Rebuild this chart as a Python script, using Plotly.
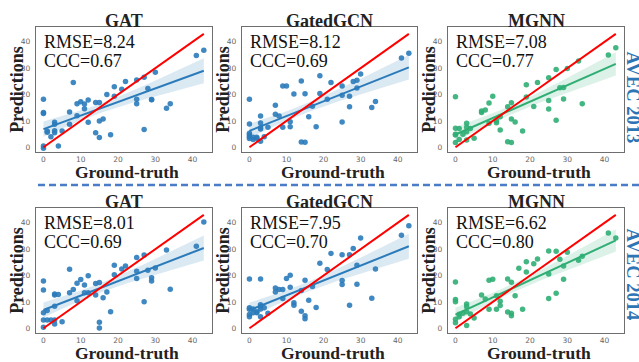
import numpy as np
import plotly.graph_objects as go

W, H = 639, 362

# ---------------- data ----------------
titles = ["GAT", "GatedGCN", "MGNN", "GAT", "GatedGCN", "MGNN"]
rmse_labels = ["RMSE=8.24", "RMSE=8.12", "RMSE=7.08", "RMSE=8.01", "RMSE=7.95", "RMSE=6.62"]
ccc_labels = ["CCC=0.67", "CCC=0.69", "CCC=0.77", "CCC=0.69", "CCC=0.70", "CCC=0.80"]
row_labels = ["AVEC 2013", "AVEC 2014"]
tick_vals = [0, 10, 20, 30, 40]

gat13_x = [0, 0, 0, 0, 0, 1, 1, 2, 3, 3, 3, 3, 4, 5, 7, 7, 8, 9, 9, 10, 11, 11, 12, 12, 14, 14, 15, 15, 15, 16,
           17, 18, 19, 19, 21, 22, 25, 25, 25, 27, 27, 28, 29, 29, 30, 33, 34, 41, 43]
gat13_y = [0.5, -0.4, 18.2, 13.2, 12.8, 5.7, 6.2, 4.0, 9.5, 8.7, 6.3, 5.5, 0.5, 6.2, 13.4, 8.7, 24.6, 16.5, 12.0,
           17.3, 16.4, 14.6, 17.9, 9.5, 5.5, 17.0, 17.0, 10.0, 3.7, 10.7, 20.0, 4.8, 23.0, 19.4, 22.0, 24.9, 25.5,
           18.2, 16.5, 26.6, 6.7, 22.3, 18.0, 18.1, 28.5, 14.8, 16.5, 34.8, 36.8]

ggcn13_x = [0, 0, 0, 0, 0, 0, 1, 1, 2, 2, 3, 3, 3, 3, 3, 4, 5, 7, 7, 8, 9, 9, 10, 11, 11, 12, 14, 14, 15, 15, 16,
            17, 18, 19, 19, 21, 22, 25, 25, 25, 27, 27, 28, 29, 29, 30, 33, 34, 41, 43]
ggcn13_y = [18.2, 8.8, 5.3, 4.7, 4.0, 3.3, 3.8, 3.0, 3.8, 3.3, 11.9, 9.2, 7.4, 6.9, 2.3, 4.0, 7.6, 15.9, 12.5,
            11.9, 23.2, 7.6, 23.2, 9.7, 7.8, 20.2, 25.1, 2.0, 20.3, 1.9, 11.6, 15.6, 7.8, 27.1, 20.4, 18.2, 24.6,
            23.2, 19.7, 9.6, 19.4, 15.4, 24.9, 25.4, 22.5, 27.8, 15.1, 17.4, 33.9, 35.7]

mgnn13_x = [0, 0, 0, 0, 0, 1, 1, 2, 3, 3, 3, 3, 4, 5, 7, 7, 8, 9, 9, 10, 11, 11, 12, 12, 14, 14, 15, 15, 15, 16,
            18, 19, 19, 21, 22, 25, 25, 25, 27, 27, 28, 29, 29, 30, 33, 34, 41, 43]
mgnn13_y = [19.2, 7.2, 4.9, 4.7, 1.8, 7.1, 3.0, 4.9, 9.1, 7.6, 5.9, 2.8, 7.1, 3.4, 13.2, 13.8, 14.1, 16.8, 9.1,
            19.4, 10.1, 9.3, 11.6, 6.6, 15.4, 2.1, 16.9, 10.7, 1.8, 9.6, 6.2, 23.7, 19.1, 15.5, 24.6, 26.4, 17.7,
            14.5, 10.3, 29.5, 22.6, 22.7, 18.3, 29.9, 32.7, 16.5, 35.0, 37.7]

gat14_x = [0, 0, 0, 0, 0, 1, 1, 2, 3, 3, 3, 3, 3, 4, 5, 7, 7, 8, 9, 9, 10, 11, 11, 12, 12, 14, 14, 15, 15, 15,
           16, 17, 18, 19, 19, 21, 22, 25, 25, 25, 27, 27, 28, 29, 29, 30, 33, 34, 41, 43]
gat14_y = [17.9, 14.5, 5.9, 3.1, 0.4, 6.7, 3.1, 3.1, 13.0, 12.6, 8.4, 3.1, 1.6, 12.8, 2.5, 22.4, 13.5, 14.7,
           17.1, 10.4, 18.5, 16.4, 13.5, 19.9, 13.5, 17.0, 12.6, 17.4, 2.3, 0.1, 11.6, 13.8, 6.3, 23.9, 20.3,
           22.5, 23.6, 26.8, 21.6, 18.9, 27.8, 10.1, 22.0, 19.2, 17.9, 22.9, 29.7, 14.8, 31.1, 40.3]

ggcn14_x = [0, 0, 0, 0, 0, 1, 1, 2, 2, 3, 3, 3, 3, 3, 4, 5, 7, 7, 8, 9, 9, 10, 11, 11, 12, 12, 14, 14, 15, 15,
            15, 16, 17, 18, 19, 21, 22, 25, 25, 25, 27, 27, 28, 29, 29, 30, 33, 34, 41, 43]
ggcn14_y = [18.7, 7.8, 7.2, 5.2, 4.4, 7.3, 5.9, 5.9, 6.3, 18.7, 8.9, 8.3, 7.3, 4.4, 7.8, 5.7, 15.3, 13.8, 14.7,
            14.7, 11.3, 18.9, 20.1, 15.6, 9.7, 8.7, 6.5, 14.3, 18.2, 4.8, 3.6, 10.6, 15.8, 7.9, 24.7, 22.3, 28.4,
            27.9, 18.1, 16.6, 8.7, 27.9, 30.3, 23.9, 16.7, 34.2, 11.4, 22.5, 35.3, 38.9]

mgnn14_x = [0, 0, 0, 0, 0, 1, 1, 2, 3, 3, 3, 3, 4, 5, 7, 8, 9, 9, 10, 11, 11, 12, 12, 14, 14, 15, 15, 15, 16, 17,
            18, 19, 19, 21, 22, 25, 25, 25, 27, 27, 28, 29, 29, 30, 33, 34, 41, 43]
mgnn14_y = [17.6, 10.9, 10.1, 3.4, 2.1, 5.3, 4.4, 5.7, 9.2, 8.2, 6.3, 1.1, 5.4, 3.9, 12.6, 11.1, 18.2, 7.2, 18.6,
            7.2, 12.3, 10.3, 8.6, 18.7, 6.2, 17.5, 5.7, 4.8, 12.3, 22.8, 7.2, 25.2, 21.3, 24.5, 26.3, 29.3, 20.6,
            11.3, 29.2, 13.3, 26.2, 23.6, 18.6, 28.8, 25.8, 27.3, 36.1, 34.2]

series_x = [gat13_x, ggcn13_x, mgnn13_x, gat14_x, ggcn14_x, mgnn14_x]
series_y = [gat13_y, ggcn13_y, mgnn13_y, gat14_y, ggcn14_y, mgnn14_y]
identity_x = [0, 43]

# ---------------- styles ----------------
BLUE = "#2b7bba"
GREEN = "#2fae74"
colors = [BLUE, BLUE, GREEN, BLUE, BLUE, GREEN]
band_colors = ["rgba(43,123,186,0.17)", "rgba(43,123,186,0.17)", "rgba(47,174,116,0.17)",
               "rgba(43,123,186,0.17)", "rgba(43,123,186,0.17)", "rgba(47,174,116,0.17)"]
SERIF = "Liberation Serif, Times New Roman, serif"
LABEL_BLUE = "#2e75b6"

# panel boxes in pixels: (left, right, top, bottom)
col_px = [(36, 212), (242, 417), (448, 624)]
row_px = [(27.3, 152.3), (208.3, 333.3)]


def px(x):
    return x / W


def py(y):
    return 1 - y / H


fig = go.Figure()
annotations = []
shapes = []

for i in range(6):
    r, c = divmod(i, 3)
    l, rr = col_px[c]
    t, b = row_px[r]
    ax = "" if i == 0 else str(i + 1)
    xref, yref = "x" + ax, "y" + ax
    x = np.array(series_x[i], dtype=float)
    y = np.array(series_y[i], dtype=float)

    # regression + 95% CI of the mean
    n = len(x)
    slope, icpt = np.polyfit(x, y, 1)
    xs = np.linspace(x.min(), x.max(), 60)
    yhat = icpt + slope * xs
    resid = y - (icpt + slope * x)
    s = np.sqrt(np.sum(resid ** 2) / (n - 2))
    se = s * np.sqrt(1 / n + (xs - x.mean()) ** 2 / np.sum((x - x.mean()) ** 2))
    upper, lower = yhat + 2.01 * se, yhat - 2.01 * se

    fig.add_trace(go.Scatter(x=np.concatenate([xs, xs[::-1]]), y=np.concatenate([upper, lower[::-1]]),
                             fill="toself", fillcolor=band_colors[i], line=dict(width=0),
                             mode="lines", hoverinfo="skip", showlegend=False, xaxis=xref, yaxis=yref))
    fig.add_trace(go.Scatter(x=x, y=y, mode="markers",
                             marker=dict(size=5.5, color=colors[i], opacity=0.9, line=dict(width=0)),
                             showlegend=False, xaxis=xref, yaxis=yref))
    fig.add_trace(go.Scatter(x=xs, y=yhat, mode="lines", line=dict(color=colors[i], width=2),
                             showlegend=False, xaxis=xref, yaxis=yref))
    fig.add_trace(go.Scatter(x=identity_x, y=identity_x, mode="lines", line=dict(color="#ff0000", width=2),
                             showlegend=False, xaxis=xref, yaxis=yref))

    axcommon = dict(showgrid=False, zeroline=False, showline=True, mirror=True, linecolor="#6e6e6e",
                    linewidth=1.3, tickvals=tick_vals, ticks="", tickfont=dict(size=7.5, color="#666666",
                                                                               family="DejaVu Sans"),
                    fixedrange=True)
    fig.layout["xaxis" + ax] = dict(axcommon, domain=[px(l), px(rr)], range=[-2.0, 45.2], anchor=yref,
                                    ticklabelstandoff=0)
    fig.layout["yaxis" + ax] = dict(axcommon, domain=[py(b), py(t)], range=[-1.9, 45.5], anchor=xref,
                                    ticklabelstandoff=3)

    cx = (l + rr) / 2
    annotations.append(dict(text="<b>%s</b>" % titles[i], x=px(cx), y=py(t - 6.5), xref="paper", yref="paper",
                            showarrow=False, font=dict(family=SERIF, size=18, color="#222222"),
                            xanchor="center", yanchor="middle"))
    annotations.append(dict(text="<b>Ground-truth</b>", x=px(cx + 3), y=py(b + 20), xref="paper",
                            yref="paper", showarrow=False, font=dict(family=SERIF, size=17.5, color="#222222"),
                            xanchor="center", yanchor="middle"))
    annotations.append(dict(text="<b>Predictions</b>", x=px(l - 19), y=py((t + b) / 2), xref="paper",
                            yref="paper", showarrow=False, textangle=-90,
                            font=dict(family=SERIF, size=18, color="#222222"),
                            xanchor="center", yanchor="middle"))
    annotations.append(dict(text=rmse_labels[i], x=px(l + 6), y=py(t + 15), xref="paper", yref="paper",
                            showarrow=False, font=dict(family=SERIF, size=18, color="#111111"),
                            xanchor="left", yanchor="middle"))
    annotations.append(dict(text=ccc_labels[i], x=px(l + 6), y=py(t + 34), xref="paper", yref="paper",
                            showarrow=False, font=dict(family=SERIF, size=18, color="#111111"),
                            xanchor="left", yanchor="middle"))

for k, yc in enumerate([97, 274]):
    annotations.append(dict(text="<b>%s</b>" % row_labels[k], x=px(632.5), y=py(yc), xref="paper",
                            yref="paper", showarrow=False, textangle=90,
                            font=dict(family=SERIF, size=18.5, color=LABEL_BLUE),
                            xanchor="center", yanchor="middle"))

shapes.append(dict(type="line", xref="paper", yref="paper", x0=px(38), x1=1.0, y0=py(185), y1=py(185),
                   line=dict(color="#4a7cc8", width=2.5, dash="7px,4px")))

fig.update_layout(width=W, height=H, margin=dict(l=0, r=0, t=0, b=0), paper_bgcolor="white",
                  plot_bgcolor="white", annotations=annotations, shapes=shapes, showlegend=False)

fig.write_html("out.html", config={"displayModeBar": False},
               post_script="document.body.style.margin='0';document.body.style.overflow='hidden';")
